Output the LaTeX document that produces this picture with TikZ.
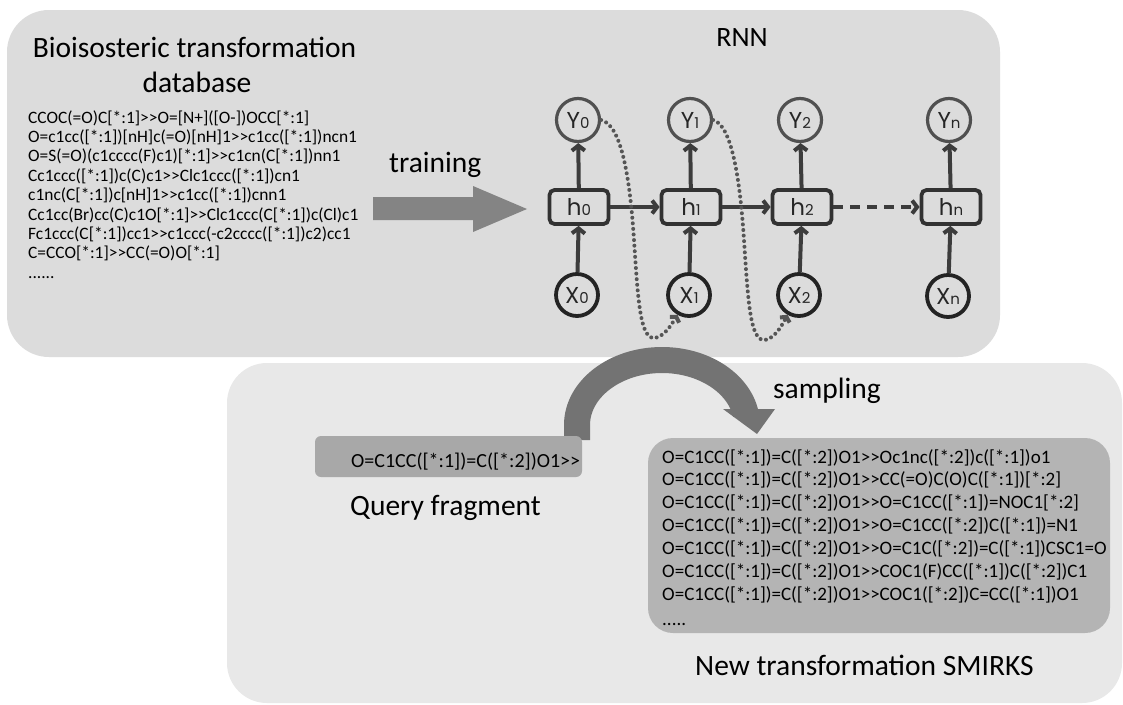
\documentclass[tikz,border=0pt]{standalone}
\usepackage{fontspec}
\setmainfont{Carlito}[Ligatures=TeXOff]
\newfontfamily\rnnfont{Poppins}
\usetikzlibrary{arrows.meta}
\definecolor{toppanel}{RGB}{220,220,220}
\definecolor{botpanel}{RGB}{232,232,232}
\definecolor{smirksbox}{RGB}{180,180,180}
\definecolor{querybox}{RGB}{168,168,168}
\definecolor{bigarrow}{RGB}{115,115,115}
\definecolor{trainarrow}{RGB}{132,132,132}
\definecolor{ycircle}{RGB}{80,80,80}
\definecolor{xcircle}{RGB}{35,35,35}
\definecolor{hbox}{RGB}{50,50,50}
\definecolor{conn}{RGB}{60,60,60}
\definecolor{dotc}{RGB}{85,85,85}
\newcommand\rnnlab[2]{{\rnnfont\fontsize{23}{23}\selectfont #1\fontsize{15}{15}\selectfont #2}}
\tikzset{
  bigtitle/.style={font=\fontsize{29.5}{35}\selectfont, inner sep=0},
  smi/.style={font=\fontsize{17.4}{19}\selectfont, anchor=base west, inner sep=0},
  smk/.style={font=\fontsize{19}{21}\selectfont, anchor=base west, inner sep=0},
  ycirc/.style={circle, draw=ycircle, line width=3.2pt, minimum size=43pt, inner sep=0, text=black!85},
  xcirc/.style={circle, draw=xcircle, line width=3.8pt, minimum size=42pt, inner sep=0, text=black!85},
  hcell/.style={rectangle, rounded corners=5pt, draw=hbox, line width=3.8pt, minimum width=59pt, minimum height=34pt, inner sep=0, text=black!85},
  flow/.style={draw=conn, line width=4pt, -{Straight Barb[length=5pt,width=13pt]}},
  recur/.style={draw=dotc, line width=4pt, dash pattern=on 0pt off 5.6pt, line cap=round, -{Straight Barb[length=3.5pt,width=11pt]}},
}
\begin{document}
\begin{tikzpicture}[x=1pt,y=-1pt]
\useasboundingbox (0,0) rectangle (1123,704);
\fill[white] (0,0) rectangle (1123,704);
% panels
\fill[botpanel, rounded corners=40pt] (227,363) rectangle (1122,703);
\fill[toppanel, rounded corners=42pt] (7,10) rectangle (1000,357);

% database
\node[bigtitle, anchor=base] (dbt1) at (194.5,57) {Bioisosteric transformation};
\node[bigtitle, anchor=base] (dbt2) at (197,92) {database};
\foreach \t [count=\i from 0] in {
  {CCOC(=O)C[*:1]>>O=[N+]([O-])OCC[*:1]},
  {O=c1cc([*:1])[nH]c(=O)[nH]1>>c1cc([*:1])ncn1},
  {O=S(=O)(c1cccc(F)c1)[*:1]>>c1cn(C[*:1])nn1},
  {Cc1ccc([*:1])c(C)c1>>Clc1ccc([*:1])cn1},
  {c1nc(C[*:1])c[nH]1>>c1cc([*:1])cnn1},
  {Cc1cc(Br)cc(C)c1O[*:1]>>Clc1ccc(C[*:1])c(Cl)c1},
  {Fc1ccc(C[*:1])cc1>>c1ccc(-c2cccc([*:1])c2)cc1},
  {C=CCO[*:1]>>CC(=O)O[*:1]}}
  \node[smi] (db\i) at (28,123+19.4*\i) {\t};
\node[smi] (dbdots) at (28,278.2) {......};

% training arrow
\node[bigtitle, anchor=base west] (train) at (389,172) {training};
\fill[trainarrow] (373,197) -- (473,197) -- (473,186) -- (527,209) -- (473,232) -- (473,220) -- (373,220) -- cycle;

% RNN
\node[font=\fontsize{28}{32}\selectfont, anchor=base, inner sep=0] (rnnt) at (742,46) {RNN};
\node[ycirc] (y0) at (578,120) {\rnnlab{Y}{0}};
\node[ycirc] (y1) at (690,120) {\rnnlab{Y}{1}};
\node[ycirc] (y2) at (800,120) {\rnnlab{Y}{2}};
\node[ycirc] (yn) at (949,120) {\rnnlab{Y}{n}};
\node[hcell] (h0) at (579,207) {\rnnlab{h}{0}};
\node[hcell] (h1) at (691,207) {\rnnlab{h}{1}};
\node[hcell] (h2) at (802,207) {\rnnlab{h}{2}};
\node[hcell] (hn) at (951,207) {\rnnlab{h}{n}};
\node[xcirc] (x0) at (577,295) {\rnnlab{X}{0}};
\node[xcirc] (x1) at (689,295) {\rnnlab{X}{1}};
\node[xcirc] (x2) at (799,295) {\rnnlab{X}{2}};
\node[xcirc] (xn) at (948,296) {\rnnlab{X}{n}};
\foreach \c in {0,1,2,n}{
  \draw[flow] (x\c) -- (h\c);
  \draw[flow] (h\c) -- (y\c);
}
\draw[flow] (h0) -- (h1);
\draw[flow] (h1) -- (h2);
\draw[flow, dash pattern=on 10pt off 7pt] (h2) -- (hn);
\draw[recur] (y0.east) .. controls (622,125) and (630,180) .. (634,240)
  .. controls (638,300) and (640,340) .. (655,338)
  .. controls (664,336) and (670,327) .. (x1.240);
\draw[recur] (y1.east) .. controls (732,125) and (740,180) .. (744,240)
  .. controls (748,300) and (750,342) .. (765,340)
  .. controls (774,338) and (780,329) .. (x2.240);

% sampling arrow
\draw[bigarrow, line width=26pt] (577,440) -- (577,425) arc[start angle=180, end angle=350, x radius=85, y radius=65];
\fill[bigarrow] (723,409) -- (775,409) -- (757,434) -- cycle;
\node[bigtitle, anchor=base west] (samp) at (773,398) {sampling};

% query
\node[fill=querybox, rounded corners=6pt, minimum width=267pt, minimum height=41pt, inner sep=0] (qbox) at (448.5,456.5) {};
\node[smk, font=\fontsize{20}{22}\selectfont] (qtext) at (351,467) {O=C1CC([*:1])=C([*:2])O1>>};
\node[bigtitle, anchor=base west] (qlab) at (350,515) {Query fragment};

% results
\node[fill=smirksbox, rounded corners=25pt, minimum width=462pt, minimum height=195pt, inner sep=0] (sbox) at (879,535.5) {};
\foreach \t [count=\i from 0] in {
  {O=C1CC([*:1])=C([*:2])O1>>Oc1nc([*:2])c([*:1])o1},
  {O=C1CC([*:1])=C([*:2])O1>>CC(=O)C(O)C([*:1])[*:2]},
  {O=C1CC([*:1])=C([*:2])O1>>O=C1CC([*:1])=NOC1[*:2]},
  {O=C1CC([*:1])=C([*:2])O1>>O=C1CC([*:2])C([*:1])=N1},
  {O=C1CC([*:1])=C([*:2])O1>>O=C1C([*:2])=C([*:1])CSC1=O},
  {O=C1CC([*:1])=C([*:2])O1>>COC1(F)CC([*:1])C([*:2])C1},
  {O=C1CC([*:1])=C([*:2])O1>>COC1([*:2])C=CC([*:1])O1}}
  \node[smk] (sm\i) at (662,463+22.85*\i) {\t};
\node[smk] (smdots) at (662,625) {.....};
\node[bigtitle, anchor=base west] (slab) at (695,675) {New transformation SMIRKS};
\end{tikzpicture}
\end{document}
